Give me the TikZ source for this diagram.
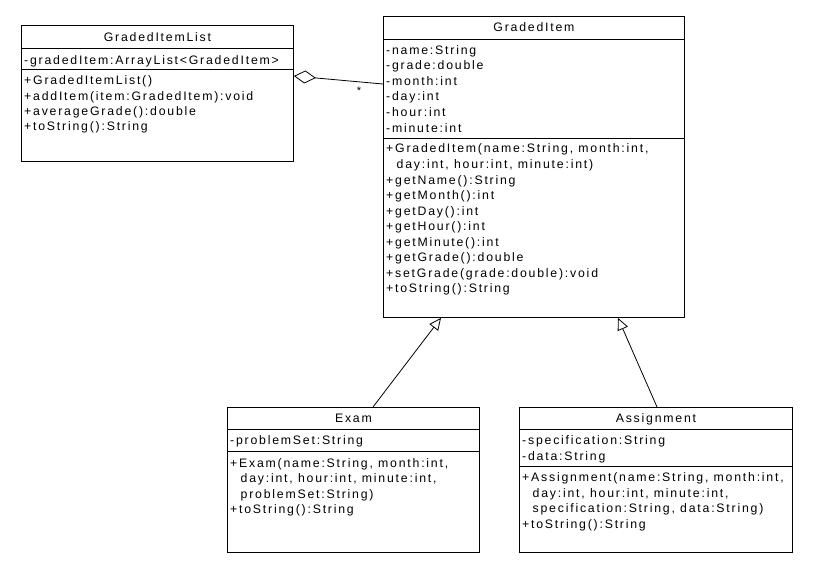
\documentclass[tikz,border=0pt]{standalone}
\usepackage{fontspec}
\setmainfont{Liberation Sans}[LetterSpace=14.5]
\usetikzlibrary{arrows.meta,calc}
\tikzset{
  box/.style={draw=black, line width=0.9pt, rectangle, inner sep=0pt, anchor=north west},
  sep/.style={draw=black, line width=0.9pt},
  txt/.style={anchor=base west, inner sep=0pt, font=\fontsize{12.3}{15.5}\selectfont, text=black},
  ttl/.style={anchor=base, inner sep=0pt, font=\fontsize{12.3}{15.5}\selectfont, text=black},
  aggr/.style={line width=0.8pt, {Diamond[open,length=22pt,width=13pt,line width=0.8pt]}-},
  gen/.style={line width=0.8pt, -{Triangle[open,length=12pt,width=11pt,line width=0.8pt]}},
  mult/.style={anchor=base, inner sep=0pt, font=\fontsize{11}{11}\selectfont}
}
\newcommand\umllines[4]{%
  \foreach \t [count=\i] in {#4} {\node[txt] (#1\i) at (#2, {#3+(\i-1)*15.5}) {\t};}}
\newcommand\ind{\hspace*{10.5pt}}
\begin{document}
\begin{tikzpicture}[x=1pt,y=-1pt]
\useasboundingbox (0,0) rectangle (820,578);
% GradedItemList
\node[box, minimum width=272pt, minimum height=136pt] (gil) at (21,25) {};
\draw[sep] (gil.west |- 0,48) -- (gil.east |- 0,48);
\draw[sep] (gil.west |- 0,69) -- (gil.east |- 0,69);
\node[ttl] (gilT) at (gil.north |- 0,41.5) {GradedItemList};
\umllines{gila}{24}{64.3}{{-gradedItem:ArrayList<GradedItem>}}
\umllines{gilm}{24}{84.5}{{+GradedItemList()},{+addItem(item:GradedItem):void},{+averageGrade():double},{+toString():String}}
% GradedItem
\node[box, minimum width=301pt, minimum height=301pt] (gi) at (383,16) {};
\draw[sep] (gi.west |- 0,39) -- (gi.east |- 0,39);
\draw[sep] (gi.west |- 0,138) -- (gi.east |- 0,138);
\node[ttl] (giT) at (gi.north |- 0,32) {GradedItem};
\umllines{gia}{386}{54.5}{{-name:String},{-grade:double},{-month:int},{-day:int},{-hour:int},{-minute:int}}
\umllines{gim}{386}{153}{{+GradedItem(name:String, month:int,},{\ind day:int, hour:int, minute:int)},{+getName():String},{+getMonth():int},{+getDay():int},{+getHour():int},{+getMinute():int},{+getGrade():double},{+setGrade(grade:double):void},{+toString():String}}
% Exam
\node[box, minimum width=252pt, minimum height=145pt] (exam) at (227,407) {};
\draw[sep] (exam.west |- 0,429) -- (exam.east |- 0,429);
\draw[sep] (exam.west |- 0,451) -- (exam.east |- 0,451);
\node[ttl] (examT) at (exam.north |- 0,422.5) {Exam};
\umllines{exa}{230}{444.5}{{-problemSet:String}}
\umllines{exm}{230}{467}{{+Exam(name:String, month:int,},{\ind day:int, hour:int, minute:int,},{\ind problemSet:String)},{+toString():String}}
% Assignment
\node[box, minimum width=273pt, minimum height=145pt] (asg) at (519,407) {};
\draw[sep] (asg.west |- 0,429) -- (asg.east |- 0,429);
\draw[sep] (asg.west |- 0,466) -- (asg.east |- 0,466);
\node[ttl] (asgT) at (asg.north |- 0,422.5) {Assignment};
\umllines{asa}{522}{444.5}{{-specification:String},{-data:String}}
\umllines{asm}{522}{481.5}{{+Assignment(name:String, month:int,},{\ind day:int, hour:int, minute:int,},{\ind specification:String, data:String)},{+toString():String}}
% connectors
\coordinate (aggS) at (gil.east |- 0,76);
\coordinate (aggE) at (gi.west |- 0,84);
\draw[aggr] (aggS) -- (aggE);
\node[mult] (star) at (359,95) {*};
\coordinate (g1s) at (exam.north -| 373,0);
\coordinate (g1e) at (gi.south -| 441,0);
\draw[gen] (g1s) -- (g1e);
\coordinate (g2s) at (asg.north -| 657,0);
\coordinate (g2e) at (gi.south -| 618,0);
\draw[gen] (g2s) -- (g2e);
\end{tikzpicture}
\end{document}
